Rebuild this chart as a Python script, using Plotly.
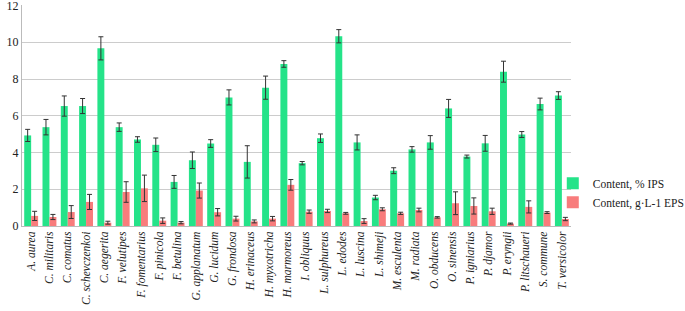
import plotly.graph_objects as go

species = ["A. aurea", "C. militaris", "C. comatus", "C. schevczenkoi", "C. aegerita",
           "F. velutipes", "F. fomentarius", "F. pinicola", "F. betulina", "G. applanatum",
           "G. lucidum", "G. frondosa", "H. erinaceus", "H. myxotricha", "H. marmoreus",
           "I. obliquus", "L. sulphureus", "L. edodes", "L. luscina", "L. shimeji",
           "M. esculenta", "M. radiata", "O. obducens", "O. sinensis", "P. igniarius",
           "P. djamor", "P. eryngii", "P. litschaueri", "S. commune", "T. versicolor"]

ips = [4.93, 5.38, 6.53, 6.53, 9.67, 5.38, 4.71, 4.42, 2.4, 3.58,
       4.49, 7.0, 3.49, 7.53, 8.82, 3.42, 4.78, 10.33, 4.55, 1.55,
       3.01, 4.17, 4.55, 6.4, 3.78, 4.5, 8.4, 4.98, 6.64, 7.1]
ips_err = [0.33, 0.42, 0.55, 0.41, 0.63, 0.23, 0.15, 0.37, 0.35, 0.45,
           0.21, 0.41, 0.88, 0.63, 0.18, 0.09, 0.23, 0.36, 0.41, 0.12,
           0.16, 0.15, 0.37, 0.49, 0.08, 0.43, 0.57, 0.16, 0.32, 0.21]

eps = [0.55, 0.49, 0.76, 1.31, 0.18, 1.85, 2.05, 0.29, 0.18, 1.93,
       0.75, 0.4, 0.25, 0.4, 2.24, 0.78, 0.82, 0.69, 0.27, 0.91,
       0.69, 0.87, 0.47, 1.24, 1.09, 0.8, 0.13, 1.04, 0.73, 0.38]
eps_err = [0.25, 0.14, 0.35, 0.41, 0.08, 0.56, 0.72, 0.15, 0.06, 0.41,
           0.2, 0.13, 0.08, 0.12, 0.29, 0.09, 0.09, 0.05, 0.13, 0.08,
           0.06, 0.1, 0.04, 0.62, 0.44, 0.17, 0.03, 0.33, 0.05, 0.09]

y_ticks = [0, 2, 4, 6, 8, 10, 12]

serif = "Times New Roman"
err_style = dict(type="data", thickness=1, width=2.5, color="#333333")

fig = go.Figure()
fig.add_trace(go.Bar(x=species, y=ips, name="Content, % IPS",
                     marker=dict(color="#25E389", line=dict(width=0)),
                     error_y=dict(array=ips_err, **err_style)))
fig.add_trace(go.Bar(x=species, y=eps, name="Content, g·L-1 EPS",
                     marker=dict(color="#F87C7C", line=dict(width=0)),
                     error_y=dict(array=eps_err, **err_style)))

fig.update_layout(
    width=685, height=311,
    margin=dict(l=22, r=2, t=5, b=85, autoexpand=False),
    paper_bgcolor="white", plot_bgcolor="white",
    barmode="group", bargap=0.24, bargroupgap=0.0,
    font=dict(family=serif, color="#222222", size=12),
    showlegend=True,
    legend=dict(x=0.803, y=0.15, xanchor="left", yanchor="middle",
                font=dict(family=serif, size=11.5, color="#222222"),
                itemwidth=30, tracegroupgap=2, bgcolor="rgba(0,0,0,0)"),
    xaxis=dict(domain=[0, 0.8306], tickangle=-90,
               tickfont=dict(family=serif, size=11.5, style="italic"),
               showline=True, linecolor="#BBBBBB", linewidth=1, ticks="",
               showgrid=False, zeroline=False, automargin=False),
    yaxis=dict(range=[0, 12.03], tickvals=y_ticks, showgrid=True, gridcolor="#CCCCCC",
               gridwidth=1, showline=True, linecolor="#BBBBBB", linewidth=1,
               zeroline=False, ticks="", automargin=False,
               ticklabeloverflow="allow",
               tickfont=dict(family=serif, size=12)),
)

fig.write_html("out.html", config={"displayModeBar": False},
               post_script="document.body.style.margin='0';")
